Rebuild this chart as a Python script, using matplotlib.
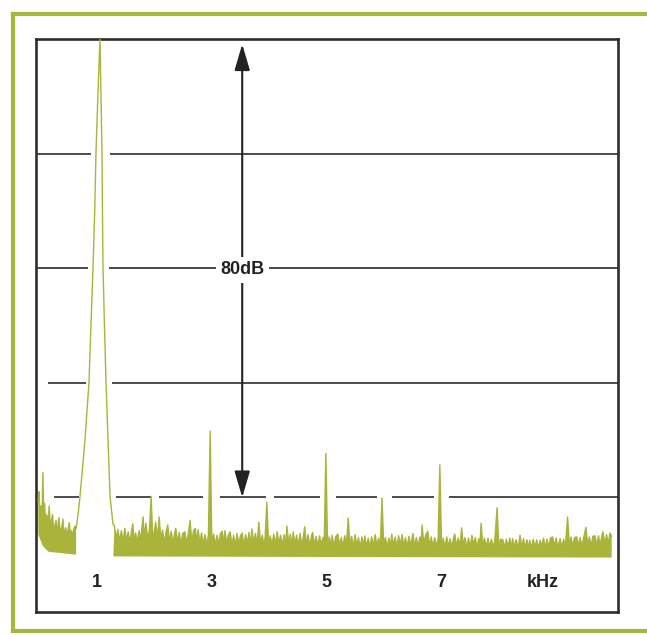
#Import necessary package
import numpy as np
import matplotlib
matplotlib.use("Agg")
import matplotlib.pyplot as plt
from matplotlib.lines import Line2D

plt.rcParams['font.family'] = ['Liberation Sans', 'DejaVu Sans']

#Spectrum trace: frequency (kHz) and level (dB below top of screen)
trace_khz = [
    -0.03, -0.02, 0.00, 0.02, 0.035, 0.05, 0.065, 0.08, 0.10, 0.12, 0.14, 0.16, 0.18, 0.20,
    0.22, 0.24, 0.26, 0.28, 0.30, 0.33, 0.35, 0.38, 0.40, 0.42, 0.45, 0.47, 0.49, 0.51,
    0.53, 0.55, 0.57, 0.59, 0.61, 0.63,
    #fundamental at 1 kHz
    0.646, 0.67, 0.698, 0.74, 0.785, 0.855, 0.89, 0.925, 0.955, 0.977, 1.01, 1.047,
    1.065, 1.082, 1.09, 1.10, 1.125, 1.152, 1.187, 1.205, 1.222, 1.25, 1.274,
    #noise floor and harmonics
    1.30, 1.33, 1.36, 1.39, 1.42, 1.45, 1.48, 1.51, 1.54, 1.57, 1.60, 1.62, 1.64, 1.67,
    1.70, 1.73, 1.76, 1.78, 1.80, 1.82, 1.85, 1.88, 1.91, 1.94, 1.97, 2.00, 2.02, 2.05,
    2.08, 2.11, 2.14, 2.17, 2.20, 2.23, 2.26, 2.29, 2.32, 2.35, 2.37, 2.40, 2.43, 2.46,
    2.49, 2.53, 2.56, 2.59, 2.62, 2.65, 2.68, 2.71, 2.74, 2.76, 2.79, 2.82, 2.85, 2.88,
    2.91, 2.94, 2.97, 3.00, 3.03, 3.06, 3.09, 3.12, 3.15, 3.18, 3.21, 3.23, 3.26, 3.29,
    3.32, 3.35, 3.38, 3.41, 3.44, 3.47, 3.50, 3.53, 3.56, 3.59, 3.62, 3.65, 3.68, 3.70,
    3.73, 3.76, 3.79, 3.82, 3.85, 3.88, 3.91, 3.93, 3.96, 3.99, 4.02, 4.05, 4.08, 4.11,
    4.14, 4.17, 4.20, 4.23, 4.26, 4.29, 4.31, 4.34, 4.37, 4.40, 4.42, 4.45, 4.48, 4.51,
    4.54, 4.57, 4.60, 4.62, 4.65, 4.68, 4.71, 4.74, 4.76, 4.79, 4.82, 4.85, 4.88, 4.91,
    4.94, 4.96, 4.99, 5.02, 5.05, 5.08, 5.10, 5.13, 5.16, 5.20, 5.23, 5.26, 5.29, 5.32,
    5.35, 5.38, 5.41, 5.44, 5.47, 5.50, 5.53, 5.56, 5.59, 5.62, 5.65, 5.67, 5.70, 5.73,
    5.76, 5.79, 5.82, 5.85, 5.88, 5.91, 5.94, 5.97, 6.00, 6.03, 6.06, 6.09, 6.12, 6.14,
    6.17, 6.20, 6.23, 6.26, 6.29, 6.32, 6.35, 6.38, 6.41, 6.44, 6.47, 6.51, 6.54, 6.57,
    6.60, 6.63, 6.65, 6.67, 6.70, 6.73, 6.77, 6.80, 6.83, 6.86, 6.89, 6.92, 6.95, 6.98,
    7.01, 7.04, 7.07, 7.10, 7.13, 7.16, 7.19, 7.22, 7.24, 7.27, 7.30, 7.33, 7.36, 7.39,
    7.42, 7.45, 7.48, 7.51, 7.54, 7.57, 7.60, 7.63, 7.66, 7.68, 7.70, 7.73, 7.76, 7.79,
    7.82, 7.85, 7.88, 7.91, 7.94, 7.98, 8.01, 8.04, 8.08, 8.11, 8.14, 8.17, 8.20, 8.23,
    8.25, 8.28, 8.31, 8.35, 8.38, 8.41, 8.44, 8.47, 8.50, 8.53, 8.55, 8.58, 8.61, 8.64,
    8.67, 8.70, 8.73, 8.76, 8.79, 8.82, 8.85, 8.88, 8.91, 8.95, 8.98, 9.01, 9.04, 9.08,
    9.11, 9.14, 9.17, 9.21, 9.24, 9.27, 9.30, 9.33, 9.37, 9.40, 9.43, 9.46, 9.49, 9.53,
    9.56, 9.59, 9.62, 9.65, 9.69, 9.72, 9.75, 9.78, 9.81, 9.83, 9.86, 9.89, 9.92, 9.95,
    9.98,
]
trace_db = [
    -80.5, -79.0, -82.5, -81.5, -84.0, -75.7, -83.5, -81.0, -84.5, -83.0, -85.5, -81.5, -85.0, -84.0,
    -83.0, -86.0, -84.8, -84.0, -86.3, -83.5, -86.0, -85.2, -83.8, -86.5, -85.3, -86.8, -85.6, -84.4,
    -86.5, -85.8, -86.8, -85.5, -85.0, -85.5,
    -84.3, -82.5, -79.8, -75.0, -70.0, -59.9, -50.0, -39.9, -30.0, -19.9, -10.0, 0.0,
    -10.0, -19.9, -30.0, -39.9, -50.0, -59.9, -70.0, -75.0, -79.8, -82.5, -84.7,
    -85.0, -87.2, -85.6, -87.6, -85.8, -87.9, -85.4, -87.5, -86.0, -88.0, -85.7, -84.6, -87.6, -86.2,
    -87.9, -85.8, -87.6, -85.2, -83.4, -86.9, -84.5, -87.4, -85.6, -79.8, -87.6, -85.6, -84.3, -87.4,
    -83.4, -87.3, -85.7, -88.0, -86.0, -84.8, -87.8, -85.9, -88.1, -86.2, -85.4, -87.9, -86.1, -88.2,
    -86.3, -86.0, -88.1, -86.2, -84.0, -87.9, -85.8, -85.4, -87.7, -85.6, -88.0, -86.2, -88.2, -86.5,
    -88.2, -86.6, -68.4, -88.1, -86.4, -88.3, -86.6, -88.2, -86.3, -85.9, -88.0, -85.8, -88.2, -86.5,
    -86.0, -88.3, -86.6, -88.4, -86.3, -88.1, -86.7, -86.2, -88.4, -86.5, -88.0, -86.1, -88.3, -85.5,
    -88.0, -86.3, -88.3, -84.3, -88.1, -86.6, -88.4, -86.9, -80.8, -88.2, -86.7, -88.4, -86.4, -88.3,
    -86.0, -88.1, -86.6, -88.5, -86.5, -88.2, -85.0, -88.0, -86.4, -88.4, -86.0, -88.1, -86.6, -88.5,
    -86.3, -88.3, -86.7, -85.1, -88.2, -86.5, -88.5, -86.7, -86.1, -88.4, -86.8, -88.6, -86.7, -88.3,
    -87.0, -88.5, -72.3, -88.4, -86.9, -88.5, -86.6, -88.6, -86.9, -86.4, -88.4, -87.0, -88.6, -86.7,
    -88.3, -83.6, -88.2, -86.8, -88.7, -86.5, -88.4, -87.0, -88.7, -86.9, -88.5, -86.7, -88.6, -87.1,
    -88.7, -86.9, -88.5, -86.5, -88.4, -87.1, -88.6, -80.1, -88.5, -87.0, -88.7, -87.1, -88.5, -86.4,
    -88.4, -86.9, -88.7, -86.7, -88.3, -86.5, -88.5, -87.0, -88.7, -86.8, -88.4, -86.3, -88.5, -87.0,
    -88.7, -86.9, -88.3, -84.8, -88.1, -86.6, -85.9, -88.4, -86.9, -88.7, -87.0, -88.5, -87.2, -74.3,
    -88.6, -87.1, -88.8, -86.9, -88.6, -87.2, -88.8, -87.0, -86.4, -88.5, -87.1, -88.7, -85.3, -88.4,
    -87.0, -88.8, -87.1, -88.6, -86.6, -88.3, -87.0, -88.8, -87.2, -88.5, -84.5, -88.5, -87.1, -88.8,
    -87.1, -88.7, -87.3, -88.8, -87.4, -81.8, -88.7, -87.3, -87.4, -88.8, -87.3, -88.7, -87.1, -88.8,
    -87.2, -88.7, -87.4, -88.8, -86.6, -88.6, -87.2, -88.8, -87.4, -88.8, -87.5, -88.9, -87.3, -88.8,
    -87.4, -88.9, -87.5, -88.6, -87.1, -88.8, -87.3, -88.7, -87.1, -86.9, -88.5, -87.1, -88.7, -87.2,
    -88.8, -87.3, -88.7, -83.4, -88.4, -86.9, -88.6, -87.0, -86.9, -88.5, -87.0, -88.6, -87.1, -85.2,
    -88.3, -86.9, -88.5, -86.8, -86.7, -88.4, -86.7, -88.3, -86.6, -86.0, -88.2, -86.5, -88.1, -86.2,
    -86.8,
]

#Bottom edge of the noise band (below the trace)
floor_left_khz = [0.63, 0.15, 0.05, -0.03]
floor_left_db = [-90.0, -89.5, -88.5, -86.5]
floor_right_khz = [9.98, 5.0, 1.28]
floor_right_db = [-90.5, -90.4, -90.3]

#Screen labels
freq_labels = ["1", "3", "5", "7"]
freq_label_pos = [1, 3, 5, 7]
span_text = "80dB"

trace_color = "#aab43a"
ink = "#2e2e2e"

#Figure and screen area
fig = plt.figure(figsize=(6.47, 6.35), dpi=100)
ax = fig.add_axes([36/647, 1-612/635, 582/647, 573/635])
ax.set_xlim(-0.07, 10.09)
ax.set_ylim(-100, 0)
ax.set_xticks([])
ax.set_yticks([])
for side in ax.spines:
    ax.spines[side].set_color(ink)
    ax.spines[side].set_linewidth(1.9)

#Graticule lines, broken where the trace passes through
grid_spans = {
    -20: [(-0.07, 0.89), (1.22, 10.09)],
    -40: [(-0.07, 0.84), (1.20, 10.09)],
    -60: [(0.14, 0.80), (1.26, 10.09)],
    -80: [(0.24, 0.68), (1.33, 1.94), (2.08, 2.84), (3.14, 3.94), (4.08, 4.89),
          (5.17, 5.88), (6.14, 6.88), (7.14, 10.09)],
}
for level, spans in grid_spans.items():
    for a, b in spans:
        ax.plot([a, b], [level, level], color=ink, lw=1.2, zorder=1, solid_capstyle='butt')

#Noise band (filled) and trace line
khz = np.array(trace_khz)
db = np.array(trace_db)
left = khz <= 0.63
right = khz >= 1.28
ax.fill(np.concatenate([khz[left], floor_left_khz]),
        np.concatenate([db[left], floor_left_db]),
        color=trace_color, lw=0, zorder=2)
ax.fill(np.concatenate([khz[right], floor_right_khz]),
        np.concatenate([db[right], floor_right_db]),
        color=trace_color, lw=0, zorder=2)
ax.plot(khz, db, color=trace_color, lw=1.0, zorder=3)

#80 dB span arrow
ax.annotate("", xy=(3.53, -0.9), xytext=(3.53, -80.0),
            arrowprops=dict(arrowstyle="<|-|>,head_length=1.6,head_width=0.47",
                            mutation_scale=10, lw=1.5, color="#222222",
                            shrinkA=0, shrinkB=0), zorder=4)
ax.text(3.53, -40.3, span_text, ha='center', va='center', fontsize=13,
        fontweight='bold', color="#222222", zorder=5,
        bbox=dict(boxstyle='square,pad=0.25', fc='white', ec='none'))

#Frequency labels inside the screen
for pos, lab in zip(freq_label_pos, freq_labels):
    ax.text(pos, -94.9, lab, ha='center', va='center', fontsize=13,
            fontweight='bold', color="#222222")
ax.text(8.78, -94.9, "kHz", ha='center', va='center', fontsize=13,
        fontweight='bold', color="#222222")

#Green outer border
border = "#a8b83c"
fig.add_artist(Line2D([12.5/647, 12.5/647], [1-13.5/635, 1-631/635],
                      transform=fig.transFigure, color=border, lw=3.0))
fig.add_artist(Line2D([12.5/647, 1.0], [1-13.5/635, 1-13.5/635],
                      transform=fig.transFigure, color=border, lw=3.0))
fig.add_artist(Line2D([12.5/647, 1.0], [1-631/635, 1-631/635],
                      transform=fig.transFigure, color=border, lw=3.0))

fig.savefig("out.png", dpi=100)
